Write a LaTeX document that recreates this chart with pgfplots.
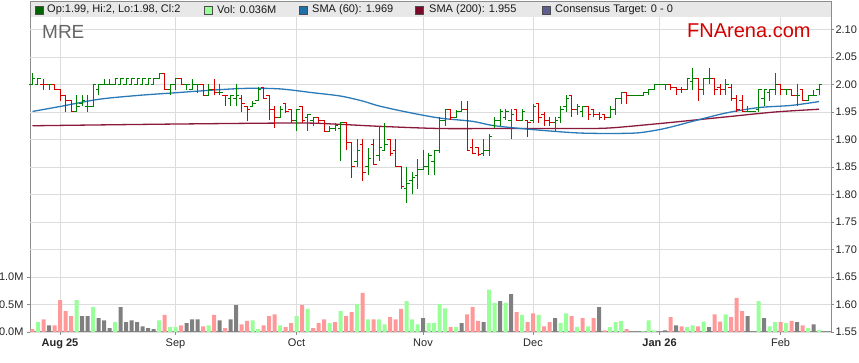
\documentclass[border=0pt]{standalone}
\usepackage{pgfplots}
\pgfplotsset{compat=1.18}
\usepackage{pgfplotstable}
\usepackage{fontspec}
\setmainfont{Liberation Sans}
\definecolor{upg}{HTML}{008000}
\definecolor{dnr}{HTML}{D40000}
\definecolor{vpink}{HTML}{FF9999}
\definecolor{vgreen}{HTML}{99FF99}
\definecolor{vgray}{HTML}{808080}
\definecolor{smab}{HTML}{2A7AB8}
\definecolor{smar}{HTML}{8B1A3A}
\definecolor{gridc}{HTML}{DCDCDC}
\definecolor{framec}{HTML}{8C8C8C}
\definecolor{bandc}{HTML}{E8E8E8}
\definecolor{lg1}{HTML}{006400}
\definecolor{lg3}{HTML}{1F6FA8}
\definecolor{lg4}{HTML}{7A0A2A}
\definecolor{lg5}{HTML}{5F5F8F}

\pgfdeclareplotmark{openL}{\pgfpathmoveto{\pgfqpoint{-3pt}{0pt}}\pgfpathlineto{\pgfqpoint{0.5pt}{0pt}}\pgfusepathqstroke}
\pgfdeclareplotmark{closeR}{\pgfpathmoveto{\pgfqpoint{-0.5pt}{0pt}}\pgfpathlineto{\pgfqpoint{3pt}{0pt}}\pgfusepathqstroke}

\pgfplotstableread{
i o h l c
-5 2.00 2.02 2.00 2.01
-4 2.00 2.01 2.00 2.01
-2 2.00 2.00 1.99 2.00
3 1.95 1.98 1.95 1.96
4 1.965 1.98 1.96 1.97
5 1.96 1.98 1.95 1.96
6 1.96 2.00 1.96 2.00
7 1.99 2.00 1.98 2.00
8 2.00 2.01 2.00 2.00
9 2.00 2.01 2.00 2.00
10 2.00 2.01 2.00 2.01
11 2.00 2.01 2.00 2.01
12 2.00 2.01 2.00 2.01
13 2.00 2.01 2.00 2.01
14 2.00 2.01 2.00 2.01
15 2.00 2.01 2.00 2.01
16 2.00 2.01 2.00 2.01
17 2.00 2.01 2.00 2.01
18 2.01 2.02 2.01 2.02
20 1.99 2.00 1.98 2.00
21 2.00 2.01 1.99 2.01
23 2.00 2.00 1.99 2.00
24 1.99 2.01 1.99 2.00
25 2.00 2.00 1.985 2.00
27 1.98 2.00 1.98 1.99
29 1.985 2.00 1.98 1.985
31 1.975 1.98 1.96 1.98
32 1.975 2.00 1.96 1.98
35 1.96 1.97 1.96 1.965
36 1.97 1.995 1.97 1.99
40 1.94 1.96 1.94 1.955
43 1.935 1.955 1.915 1.955
45 1.94 1.945 1.915 1.945
46 1.935 1.94 1.925 1.94
49 1.915 1.925 1.915 1.92
50 1.92 1.93 1.915 1.925
51 1.92 1.93 1.86 1.93
54 1.86 1.90 1.85 1.88
56 1.85 1.885 1.835 1.865
58 1.87 1.925 1.86 1.885
59 1.88 1.93 1.88 1.89
63 1.81 1.85 1.785 1.82
64 1.825 1.84 1.80 1.83
65 1.835 1.865 1.81 1.845
66 1.845 1.88 1.845 1.85
67 1.85 1.875 1.835 1.87
68 1.86 1.88 1.835 1.88
69 1.88 1.94 1.875 1.935
70 1.935 1.955 1.925 1.955
72 1.94 1.953 1.94 1.95
73 1.95 1.97 1.95 1.955
77 1.875 1.90 1.87 1.88
78 1.88 1.91 1.87 1.905
79 1.925 1.94 1.92 1.935
80 1.935 1.955 1.925 1.95
81 1.94 1.955 1.935 1.95
82 1.935 1.955 1.90 1.945
84 1.935 1.955 1.935 1.95
86 1.935 1.965 1.93 1.96
90 1.93 1.94 1.915 1.935
91 1.94 1.96 1.93 1.955
92 1.96 1.98 1.95 1.975
94 1.955 1.965 1.945 1.96
95 1.95 1.96 1.94 1.96
100 1.94 1.96 1.94 1.955
101 1.955 1.975 1.945 1.975
102 1.975 1.985 1.965 1.985
104 1.98 1.98 1.98 1.98
105 1.98 1.98 1.98 1.98
106 1.98 1.985 1.98 1.985
107 1.985 1.99 1.98 1.99
108 1.99 2.00 1.99 2.00
109 2.00 2.00 2.00 2.00
110 2.00 2.00 1.99 2.00
114 1.99 2.01 1.99 2.01
115 2.005 2.03 1.99 2.01
117 1.99 2.01 1.98 2.01
118 2.01 2.03 2.00 2.01
121 1.99 2.01 1.98 2.00
125 1.95 1.96 1.95 1.95
126 1.95 1.95 1.95 1.95
127 1.955 1.99 1.95 1.99
128 1.975 1.99 1.96 1.99
129 1.985 1.99 1.97 1.99
130 1.99 2.02 1.98 2.00
132 1.99 1.99 1.98 1.99
134 1.98 2.00 1.96 1.98
136 1.97 1.98 1.97 1.98
137 1.98 1.99 1.98 1.98
138 1.99 2.00 1.98 2.00
}\upbars

\pgfplotstableread{
i o h l c
-3 2.00 2.01 1.99 2.00
-1 2.00 2.00 1.99 1.99
0 1.99 1.99 1.97 1.98
1 1.98 1.98 1.95 1.97
2 1.97 1.97 1.95 1.95
19 2.02 2.02 1.99 1.99
22 2.01 2.01 2.00 2.00
26 2.00 2.00 1.98 1.98
28 1.99 2.01 1.98 1.985
30 1.98 1.98 1.96 1.98
33 1.975 1.98 1.95 1.965
34 1.96 1.96 1.933 1.955
37 1.995 1.995 1.975 1.975
38 1.98 1.98 1.935 1.955
39 1.955 1.96 1.92 1.94
41 1.965 1.967 1.948 1.95
42 1.955 1.955 1.93 1.935
44 1.96 1.96 1.93 1.935
47 1.94 1.94 1.93 1.935
48 1.935 1.935 1.915 1.915
52 1.93 1.93 1.88 1.895
53 1.895 1.895 1.83 1.85
55 1.89 1.90 1.825 1.84
57 1.89 1.90 1.855 1.855
60 1.90 1.90 1.87 1.875
61 1.88 1.90 1.85 1.85
62 1.85 1.85 1.81 1.815
71 1.955 1.955 1.935 1.94
74 1.955 1.97 1.88 1.88
75 1.885 1.90 1.875 1.875
76 1.885 1.885 1.87 1.872
83 1.955 1.955 1.935 1.935
85 1.935 1.935 1.905 1.93
87 1.965 1.965 1.93 1.94
88 1.945 1.95 1.925 1.935
89 1.935 1.94 1.925 1.93
93 1.98 1.98 1.94 1.955
96 1.96 1.96 1.935 1.945
97 1.955 1.955 1.94 1.945
98 1.945 1.95 1.935 1.94
99 1.945 1.945 1.935 1.94
103 1.985 1.985 1.965 1.98
111 2.00 2.00 1.99 1.995
112 1.995 1.995 1.98 1.99
113 1.99 1.995 1.985 1.99
116 2.01 2.01 1.97 1.99
119 2.01 2.01 1.98 1.99
120 1.995 2.00 1.98 1.99
122 1.995 2.00 1.97 1.975
123 1.975 1.98 1.95 1.955
124 1.97 1.98 1.95 1.95
131 2.00 2.00 1.98 1.99
133 1.99 1.99 1.98 1.98
135 1.99 1.99 1.97 1.97
}\dnbars

\pgfplotstableread{
i v
-5 0.05
-3 0.23
-1 0.12
0 0.58
1 0.38
2 0.29
19 0.31
22 0.12
26 0.10
28 0.31
30 0.07
33 0.14
34 0.20
37 0.12
38 0.29
39 0.32
41 0.09
42 0.16
44 0.49
46 0.07
47 0.16
48 0.23
50 0.18
52 0.29
53 0.36
55 0.71
57 0.23
60 0.27
61 0.23
62 0.42
71 0.09
74 0.32
75 0.45
76 0.20
83 0.36
85 0.18
86 0.34
88 0.10
89 0.18
93 0.29
95 0.25
97 0.25
99 0.03
103 0.05
111 0.27
113 0.10
116 0.10
119 0.32
120 0.19
122 0.27
123 0.62
124 0.38
131 0.18
133 0.20
135 0.12
}\volpink

\pgfplotstableread{
i v
-4 0.18
3 0.58
6 0.45
10 0.18
18 0.21
20 0.09
21 0.09
27 0.12
35 0.21
36 0.05
40 0.12
43 0.29
45 0.42
49 0.16
51 0.38
54 0.51
56 0.23
58 0.23
59 0.14
63 0.56
64 0.23
65 0.14
67 0.16
68 0.16
69 0.51
70 0.43
72 0.09
78 0.77
79 0.53
81 0.53
84 0.31
87 0.31
91 0.16
92 0.34
94 0.09
96 0.10
100 0.09
101 0.18
102 0.20
106 0.01
107 0.21
108 0.03
114 0.09
115 0.12
117 0.19
121 0.32
127 0.56
129 0.10
130 0.18
132 0.16
136 0.07
138 0.036
}\volgreen

\pgfplotstableread{
i v
-2 0.12
4 0.29
5 0.29
7 0.25
8 0.21
9 0.07
11 0.45
12 0.18
13 0.21
14 0.18
15 0.10
16 0.07
17 0.05
23 0.16
24 0.23
25 0.23
29 0.21
31 0.23
32 0.49
66 0.25
73 0.16
77 0.18
80 0.56
82 0.69
90 0.25
98 0.45
110 0.03
112 0.12
118 0.09
125 0.29
128 0.25
134 0.18
137 0.14
}\volgray

\begin{document}
\begin{tikzpicture}
\useasboundingbox (-30pt,-31pt) rectangle (829pt,332pt);
% volume axis with grid
\begin{axis}[
  scale only axis, width=801pt, height=330pt,
  xmin=-5.4545, xmax=140.1818, ymin=0, ymax=6,
  axis line style={draw=framec, line width=1pt},
  tick align=outside, major tick length=3pt,
  tick style={draw=framec, line width=0.8pt},
  xtick={0,21,43,66,86,109,131},
  xticklabels={\textbf{Aug 25},Sep,Oct,Nov,Dec,\textbf{Jan 26},Feb},
  ytick={0,0.5,1},
  yticklabels={0.0M,0.5M,1.0M},
  extra y ticks={1.5,2,2.5,3,3.5,4,4.5,5,5.5},
  extra y tick labels={},
  extra y tick style={grid=major, major tick length=0pt},
  grid=major, grid style={draw=gridc, line width=0.8pt},
  xtick pos=left, ytick pos=left,
  tick label style={font=\fontsize{11}{13}\selectfont, text=black!85},
  /pgf/number format/assume math mode=true,
]
\addplot[ybar, bar width=4pt, bar shift=0pt, fill=vpink, draw=none] table[x=i,y=v] {\volpink};
\addplot[ybar, bar width=4pt, bar shift=0pt, fill=vgreen, draw=none] table[x=i,y=v] {\volgreen};
\addplot[ybar, bar width=4pt, bar shift=0pt, fill=vgray, draw=none] table[x=i,y=v] {\volgray};
\end{axis}
% price axis
\begin{axis}[
  scale only axis, width=801pt, height=330pt,
  xmin=-5.4545, xmax=140.1818, ymin=1.55, ymax=2.15,
  axis x line=none, axis y line*=right,
  axis line style={draw=framec, line width=1pt},
  tick align=outside, major tick length=3pt,
  tick style={draw=framec, line width=0.8pt},
  ytick={1.55,1.6,1.65,1.7,1.75,1.8,1.85,1.9,1.95,2,2.05,2.1},
  yticklabel style={/pgf/number format/.cd, fixed, fixed zerofill, precision=2, assume math mode=true},
  tick label style={font=\fontsize{11}{13}\selectfont, text=black!85, xshift=-2pt},
]
\addplot[smar, line width=1.3pt, smooth] coordinates {(-5,1.925) (20,1.928) (43,1.930) (50,1.928) (58,1.924) (69,1.920) (80,1.920) (94,1.920) (100,1.921) (109,1.929) (115,1.935) (121,1.941) (130,1.950) (138,1.955)};
\addplot[smab, line width=1.3pt, smooth] coordinates {(-5,1.951) (0,1.960) (7,1.973) (14,1.980) (21,1.985) (28,1.990) (34,1.993) (40,1.992) (46,1.985) (51,1.979) (55,1.970) (58,1.961) (63,1.950) (69,1.939) (75,1.933) (79,1.925) (86,1.918) (94,1.912) (100,1.911) (105,1.912) (109,1.918) (112,1.925) (115,1.933) (121,1.948) (127,1.958) (133,1.962) (138,1.969)};
% up bars
\addplot[draw=none, mark=none, error bars/.cd, y dir=plus, y explicit, error mark=none, error bar style={draw=upg, solid, line width=1pt}] table[x=i, y=l, y error expr=\thisrow{h}-\thisrow{l}] {\upbars};
\addplot[only marks, mark=openL, color=upg, mark options={line width=1pt, solid}] table[x=i,y=o] {\upbars};
\addplot[only marks, mark=closeR, color=upg, mark options={line width=1pt, solid}] table[x=i,y=c] {\upbars};
% down bars
\addplot[draw=none, mark=none, error bars/.cd, y dir=plus, y explicit, error mark=none, error bar style={draw=dnr, solid, line width=1pt}] table[x=i, y=l, y error expr=\thisrow{h}-\thisrow{l}] {\dnbars};
\addplot[only marks, mark=openL, color=dnr, mark options={line width=1pt, solid}] table[x=i,y=o] {\dnbars};
\addplot[only marks, mark=closeR, color=dnr, mark options={line width=1pt, solid}] table[x=i,y=c] {\dnbars};
\end{axis}
% legend band
\fill[bandc] (0pt,315pt) rectangle (801pt,330pt);
\draw[framec, line width=1pt] (0pt,315pt) -- (0pt,330pt) -- (801pt,330pt) -- (801pt,315pt);
\begin{scope}[every node/.style={font=\fontsize{11}{13}\selectfont, text=black!90, inner sep=0pt, anchor=west}]
\filldraw[fill=lg1, draw=black!70, line width=0.6pt] (5pt,318pt) rectangle (13pt,326pt);
\node at (17pt,322pt) {Op:1.99, Hi:2, Lo:1.98, Cl:2};
\filldraw[fill=vgreen, draw=black!70, line width=0.6pt] (174pt,318pt) rectangle (182pt,326pt);
\node at (187pt,322pt) {Vol: 0.036M};
\filldraw[fill=lg3, draw=black!70, line width=0.6pt] (269pt,318pt) rectangle (277pt,326pt);
\node at (282pt,322pt) {SMA (60): 1.969};
\filldraw[fill=lg4, draw=black!70, line width=0.6pt] (385pt,318pt) rectangle (393pt,326pt);
\node at (399pt,322pt) {SMA (200): 1.955};
\filldraw[fill=lg5, draw=black!70, line width=0.6pt] (512pt,318pt) rectangle (520pt,326pt);
\node at (520pt,322pt) {\hspace{5pt}Consensus Target: 0 - 0};
\end{scope}
\node[anchor=base west, inner sep=0pt, font=\fontsize{19}{22}\selectfont, text=black!60] at (12pt,293pt) {MRE};
\node[anchor=base west, inner sep=0pt, font=\fontsize{20}{24}\selectfont, text=dnr] at (657pt,294pt) {FNArena.com};
\end{tikzpicture}
\end{document}
